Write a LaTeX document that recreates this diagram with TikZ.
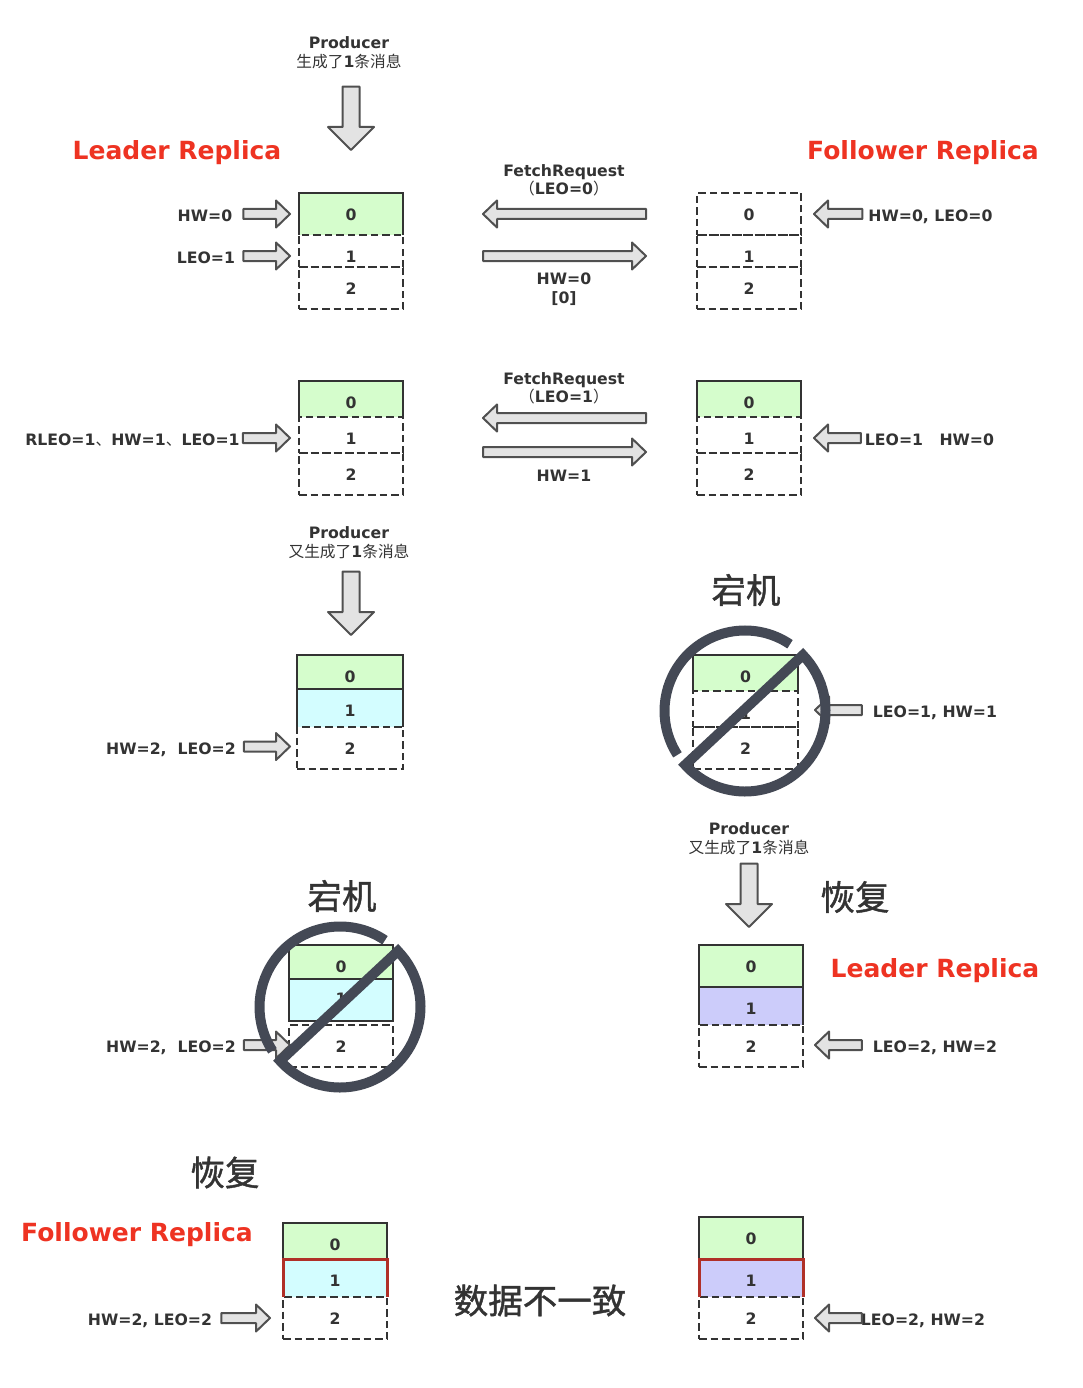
\documentclass[tikz,border=0pt]{standalone}
\usepackage{fontspec}
\setmainfont{DejaVu Sans}
\newfontfamily\cjk{Noto Sans CJK SC}
\newfontfamily\cjkbig[FakeBold=1.2]{Noto Sans CJK SC}
\usepackage{xcolor}
\usetikzlibrary{calc, positioning}
\newcommand{\zh}[1]{{\cjk\mdseries #1}}
\definecolor{ink}{HTML}{333333}
\definecolor{cellline}{HTML}{333333}
\definecolor{arrowline}{HTML}{505050}
\definecolor{arrowfill}{HTML}{E3E3E3}
\definecolor{signcol}{HTML}{444955}
\definecolor{headred}{HTML}{EE3322}
\definecolor{capred}{HTML}{B03028}
\definecolor{msggreen}{HTML}{D5FDCC}
\definecolor{msgcyan}{HTML}{D3FDFF}
\definecolor{msgblue}{HTML}{CCCCFA}
% hollow block arrow: half body width, half head width, head length
\tikzset{hollow/.style n args={3}{draw=arrowline, fill=arrowfill, line width=2pt, line join=round,
    to path={-- ($(\tikztostart)!#1!90:(\tikztotarget)$)
      -- ($($(\tikztotarget)!#3!(\tikztostart)$)!#1!90:(\tikztotarget)$)
      -- ($($(\tikztotarget)!#3!(\tikztostart)$)!#2!90:(\tikztotarget)$)
      -- (\tikztotarget)
      -- ($($(\tikztotarget)!#3!(\tikztostart)$)!#2!-90:(\tikztotarget)$)
      -- ($($(\tikztotarget)!#3!(\tikztostart)$)!#1!-90:(\tikztotarget)$)
      -- ($(\tikztostart)!#1!-90:(\tikztotarget)$) -- cycle}}}
\begin{document}
\begin{tikzpicture}[x=1pt, y=-1pt, node distance=0pt]
    \tikzstyle{every node} = [font=\fontsize{15.7}{18.5}\selectfont\bfseries, text=ink]
    \tikzstyle{cell} = [draw=cellline, line width=2pt, minimum width=104pt, inner sep=0pt, outer sep=0pt, text height=13pt, text depth=0pt]
    \tikzstyle{opencell} = [cell, draw=none]
    \tikzstyle{dashcell} = [cell, dash pattern=on 7.5pt off 4pt]
    \tikzstyle{note} = [inner sep=0pt, text height=15pt, text depth=0pt]
    \tikzstyle{twoline} = [inner sep=0pt, align=center]
    \tikzstyle{title} = [inner sep=0pt, font=\fontsize{25}{30}\selectfont\bfseries, text=headred]
    \tikzstyle{bigzh} = [inner sep=0pt, font=\fontsize{34.5}{40}\selectfont\cjkbig]
    \tikzstyle{slim} = [hollow={5pt}{13.5pt}{14pt}]
    \tikzstyle{fat} = [hollow={8.5pt}{23pt}{23pt}]
    \tikzstyle{sideline} = [draw=cellline, line width=2pt]
    \tikzstyle{redside} = [draw=capred, line width=3pt]
    \tikzstyle{nosign} = [draw=signcol, line width=10pt, miter limit=10]
    \useasboundingbox (0,0) rectangle (1082,1388);

    % first fetch
    \node [twoline] at (349,52.5) (prodA) {Producer\\\zh{生成了}1\zh{条消息}};
    \node [title] at (177,153) (titleL) {Leader Replica};
    \node [title] at (923,153) (titleF) {Follower Replica};
    \node [opencell, fill=msggreen, minimum height=42pt] at (351,214) (la0) {0};
    \node [dashcell, minimum height=32pt, text height=23pt, below=of la0] (la1) {1};
    \node [dashcell, minimum height=42pt, below=of la1] (la2) {2};
    \node [dashcell, minimum height=42pt] at (749,214) (fa0) {0};
    \node [dashcell, minimum height=32pt, text height=23pt, below=of fa0] (fa1) {1};
    \node [dashcell, minimum height=42pt, below=of fa1] (fa2) {2};
    \node [note] at (205,214) (hwA) {HW=0};
    \node [note] at (206,256) (leoA) {LEO=1};
    \node [note] at (930.5,214) (stateA) {HW=0, LEO=0};
    \node [twoline] at (564,180.5) (fetchA) {FetchRequest\\\zh{（}LEO=0\zh{）}};
    \node [twoline] at (564,289) (respA) {HW=0\\{[0]}};

    % second fetch
    \node [opencell, fill=msggreen, minimum height=36pt, text height=19pt] at (351,399) (lb0) {0};
    \node [dashcell, minimum height=36pt, text height=19pt, below=of lb0] (lb1) {1};
    \node [dashcell, minimum height=42pt, below=of lb1] (lb2) {2};
    \node [opencell, fill=msggreen, minimum height=36pt, text height=19pt] at (749,399) (fb0) {0};
    \node [dashcell, minimum height=36pt, text height=19pt, below=of fb0] (fb1) {1};
    \node [dashcell, minimum height=42pt, below=of fb1] (fb2) {2};
    \node [note] at (132.5,438) (stateB) {RLEO=1\zh{、}HW=1\zh{、}LEO=1};
    \node [note] at (929.5,438) (stateC) {LEO=1\ \ \ HW=0};
    \node [twoline] at (564,388.5) (fetchB) {FetchRequest\\\zh{（}LEO=1\zh{）}};
    \node [note] at (564,474) (respB) {HW=1};

    % leader takes a second message, follower goes down
    \node [twoline] at (349,542.5) (prodB) {Producer\\\zh{又生成了}1\zh{条消息}};
    \node [cell, fill=msggreen, minimum width=106pt, minimum height=34pt, text height=21pt] at (350,672) (lc0) {0};
    \node [opencell, fill=msgcyan, minimum width=106pt, minimum height=38pt, text height=17pt, below=of lc0] (lc1) {1};
    \node [dashcell, minimum width=106pt, minimum height=42pt, below=of lc1] (lc2) {2};
    \node [note] at (171,746.5) (stateD) {HW=2,\ \ LEO=2};
    \node [bigzh] at (746,590) (downR) {宕机};
    \node [opencell, fill=msggreen, minimum width=105pt, minimum height=36pt, text height=19pt] at (745.5,673) (fc0) {0};
    \node [dashcell, minimum width=105pt, minimum height=36pt, text height=21pt, below=of fc0] (fc1) {1};
    \node [dashcell, minimum width=105pt, minimum height=42pt, below=of fc1] (fc2) {2};
    \node [note] at (935,710) (stateE) {LEO=1, HW=1};

    % leader goes down, follower comes back as leader
    \node [bigzh] at (342,896) (downL) {宕机};
    \node [cell, fill=msggreen, minimum height=34pt, text height=21pt] at (341,962) (ld0) {0};
    \node [cell, fill=msgcyan, minimum height=42pt, text height=9pt, below=of ld0] (ld1) {1};
    \node [dashcell, minimum height=42pt, below=4pt of ld1] (ld2) {2};
    \node [note] at (171,1045) (stateF) {HW=2,\ \ LEO=2};
    \node [twoline] at (749,838.5) (prodC) {Producer\\\zh{又生成了}1\zh{条消息}};
    \node [bigzh] at (855,897) (backR) {恢复};
    \node [title] at (935,971) (titleN) {Leader Replica};
    \node [cell, fill=msggreen, minimum height=42pt] at (751,966) (fd0) {0};
    \node [opencell, fill=msgblue, minimum height=38pt, text height=17pt, below=of fd0] (fd1) {1};
    \node [dashcell, minimum height=42pt, below=of fd1] (fd2) {2};
    \node [note] at (935,1045) (stateG) {LEO=2, HW=2};

    % after recovery
    \node [bigzh] at (225,1172.5) (backL) {恢复};
    \node [title] at (137,1235) (titleO) {Follower Replica};
    \node [cell, fill=msggreen, minimum height=36pt, text height=19pt] at (335,1241) (le0) {0};
    \node [opencell, fill=msgcyan, minimum height=38pt, text height=17pt, below=of le0] (le1) {1};
    \node [dashcell, minimum height=42pt, below=of le1] (le2) {2};
    \node [note] at (150,1318) (stateH) {HW=2, LEO=2};
    \node [bigzh] at (540,1300.5) (differ) {数据不一致};
    \node [cell, fill=msggreen, minimum height=42pt] at (751,1238) (fe0) {0};
    \node [opencell, fill=msgblue, minimum height=38pt, text height=17pt, below=of fe0] (fe1) {1};
    \node [dashcell, minimum height=42pt, below=of fe1] (fe2) {2};
    \node [note] at (923,1318) (stateI) {LEO=2, HW=2};

    % solid sides of the cells that end on a dashed line
    \foreach \c in {la0,lb0,fb0,fc0,lc1,fd1}
        \draw[sideline] (\c.south west) |- (\c.north east) -- (\c.south east);
    \foreach \c in {le1,fe1}
        \draw[redside] (\c.south west) |- (\c.north east) -- (\c.south east);

    \draw[fat] ([yshift=-18pt]la0.north |- prodA.south) to ([yshift=43pt]la0.north);
    \draw[slim] ([xshift=11pt]hwA.east) to ([xshift=-9pt]la0.west |- hwA.east);
    \draw[slim] ([xshift=8pt]leoA.east) to ([xshift=-9pt]la1.west |- leoA.east);
    \draw[slim] ([xshift=-51pt]fa0.west) to ([xshift=80pt]la0.east);
    \draw[slim] ([xshift=80pt,yshift=-5pt]la1.east) to ([xshift=-51pt,yshift=-5pt]fa1.west);
    \draw[slim] ([xshift=-6pt]stateA.west) to ([xshift=13pt]fa0.east |- stateA.west);

    \draw[slim] ([xshift=3pt]stateB.east) to ([xshift=-9pt]lb1.west |- stateB.east);
    \draw[slim] ([xshift=-51pt,yshift=17pt]fb1.west) to ([xshift=80pt,yshift=17pt]lb1.east);
    \draw[slim] ([xshift=80pt,yshift=-17pt]lb1.east) to ([xshift=-51pt,yshift=-17pt]fb1.west);
    \draw[slim] ([xshift=-4pt]stateC.west) to ([xshift=13pt]fb1.east |- stateC.west);

    \draw[fat] ([xshift=1pt,yshift=-13pt]lc0.north |- prodB.south) to ([xshift=1pt,yshift=20pt]lc0.north);
    \draw[slim] ([xshift=8pt]stateD.east) to ([xshift=-7pt]lc2.west |- stateD.east);
    \draw[slim] ([xshift=-11pt]stateE.west) to ([xshift=17pt]fc1.east |- stateE.west);

    \draw[slim] ([xshift=8pt]stateF.east) to ([xshift=1pt]ld2.west |- stateF.east);
    \draw[fat] ([xshift=-2pt,yshift=-9pt]fd0.north |- prodC.south) to ([xshift=-2pt,yshift=18pt]fd0.north);
    \draw[slim] ([xshift=-11pt]stateG.west) to ([xshift=12pt]fd2.east |- stateG.west);

    \draw[slim] ([xshift=9pt]stateH.east) to ([xshift=-13pt]le2.west |- stateH.east);
    \draw[slim] ([xshift=1pt]stateI.west) to ([xshift=12pt]fe2.east |- stateI.west);

    % crossed out circles
    \coordinate (signR) at (745,711);
    \coordinate (signL) at (340,1007);
    \foreach \c in {signR,signL} {
        \draw[nosign] (\c) ++(56:80.5pt) arc[start angle=56, end angle=213, radius=80.5pt];
        \draw[nosign] (\c) ++(222:80.5pt) arc[start angle=222, end angle=404, radius=80.5pt] -- cycle;
    }
\end{tikzpicture}
\end{document}
